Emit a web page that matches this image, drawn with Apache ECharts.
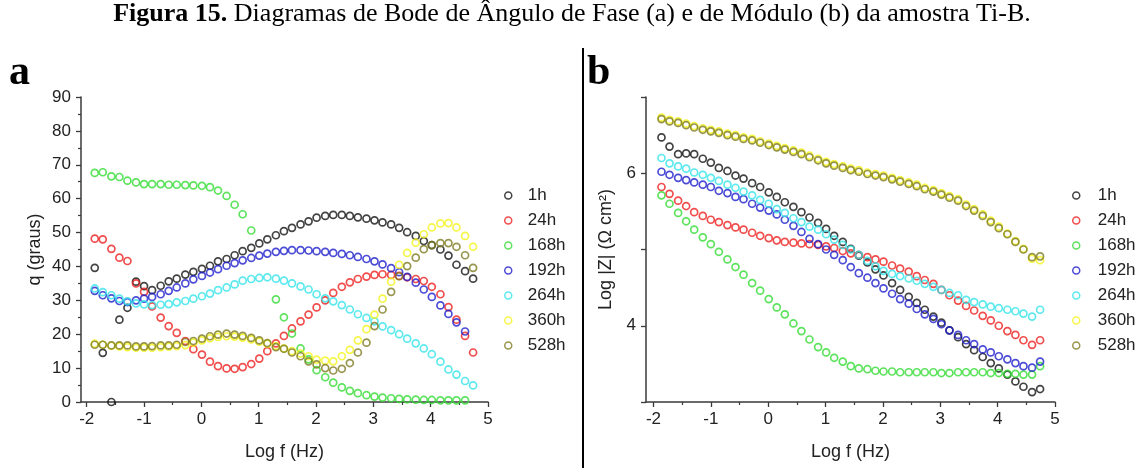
<!DOCTYPE html>
<html>
<head>
<meta charset="utf-8">
<script src="https://cdn.jsdelivr.net/npm/echarts@6/dist/echarts.min.js"></script>
<style>
html,body{margin:0;padding:0;background:#fff;}
#chart{width:1144px;height:468px;}
</style>
</head>
<body>
<div id="chart"></div>
<script>
// log frequency grid (Log f / Hz)
const logF = [-1.86,-1.72,-1.57,-1.43,-1.29,-1.14,-1.00,-0.86,-0.71,-0.57,-0.43,-0.28,-0.14,0.01,0.15,0.29,0.44,0.58,0.72,0.87,1.01,1.15,1.30,1.44,1.58,1.73,1.87,2.01,2.16,2.30,2.45,2.59,2.73,2.88,3.02,3.16,3.31,3.45,3.59,3.74,3.88,4.02,4.17,4.31,4.45,4.60,4.74];

const seriesNames = ['1h','24h','168h','192h','264h','360h','528h'];

// Panel (a): phase angle (graus)
const phase1h   = [39.6,14.5,0.0,24.3,27.8,35.5,34.2,33.0,34.3,35.6,36.4,37.6,38.4,39.3,40.2,41.5,42.2,43.3,44.5,45.5,46.8,48.0,49.2,50.4,51.4,52.4,53.3,54.4,54.9,55.2,55.2,54.9,54.5,54.1,53.6,53.0,52.4,51.4,50.1,49.0,47.5,46.3,45.0,43.2,40.5,38.6,36.4];
const phase24h  = [48.2,48.0,45.2,42.6,41.6,35.0,32.5,28.2,24.9,22.4,20.4,18.0,15.6,14.0,11.9,10.6,9.9,9.8,10.3,11.2,12.8,15.0,17.3,19.5,21.7,23.8,25.8,27.9,30.0,32.2,34.0,35.3,36.3,37.0,37.5,37.7,37.5,37.2,36.8,36.3,35.7,34.0,31.8,28.0,24.3,19.5,14.6];
const phase168h = [67.6,67.8,66.6,66.4,65.3,64.8,64.3,64.3,64.3,64.1,64.1,64.0,63.9,63.8,63.4,62.4,60.8,58.2,55.4,50.6,null,null,30.3,25.0,20.2,15.8,12.6,9.4,7.3,5.7,4.3,3.3,2.6,2.0,1.6,1.3,1.1,0.9,0.8,0.7,0.6,0.6,0.5,0.5,0.5,0.5,null];
const phase192h = [32.8,31.5,30.6,29.8,29.5,30.0,30.5,31.0,31.8,32.8,33.8,35.0,36.2,37.2,38.2,39.2,40.2,41.0,41.8,42.5,43.2,43.8,44.3,44.6,44.8,44.8,44.7,44.5,44.3,44.0,43.7,43.3,42.8,42.2,41.5,40.6,39.5,38.3,36.9,35.2,33.2,31.0,28.5,26.0,23.5,20.8,null];
const phase264h = [33.5,32.4,31.5,30.5,29.7,29.1,28.8,28.6,28.7,28.9,29.4,29.8,30.5,31.2,32.0,33.0,33.8,34.7,35.8,36.3,36.6,36.8,36.4,35.8,35.0,34.1,33.2,31.8,30.6,29.7,28.6,27.3,25.9,24.8,23.8,22.3,21.2,20.0,18.7,17.3,15.8,14.1,11.9,9.6,8.1,6.2,4.9];
const phase360h = [17.2,16.9,16.6,16.4,16.2,16.0,16.0,16.0,16.2,16.3,16.5,16.8,17.5,18.2,18.8,19.2,19.4,19.3,19.0,18.5,17.8,17.2,16.5,15.8,15.0,14.3,13.5,12.5,12.2,12.0,13.5,15.4,18.2,21.5,25.8,30.5,35.5,40.5,44.0,47.0,49.5,51.5,52.7,52.8,51.5,49.0,45.8];
const phase528h = [16.9,16.9,16.7,16.7,16.7,16.4,16.4,16.5,16.7,16.7,16.9,17.7,18.0,18.7,19.4,19.9,20.2,19.9,19.5,18.9,18.2,17.4,16.2,15.7,14.6,13.5,12.0,11.1,10.0,9.3,9.8,11.5,14.6,17.5,22.4,27.3,32.5,37.1,40.1,42.6,45.1,46.3,46.9,46.9,45.8,43.3,39.6];

// Panel (b): Log |Z| (ohm cm2)
const logZ1h   = [6.47,6.35,6.25,6.26,6.25,6.19,6.14,6.07,6.03,5.97,5.93,5.87,5.82,5.75,5.69,5.62,5.56,5.49,5.42,5.35,5.27,5.18,5.10,5.01,4.92,4.83,4.74,4.66,4.56,4.47,4.38,4.30,4.21,4.12,4.04,3.94,3.85,3.76,3.68,3.59,3.51,3.44,3.36,3.27,3.20,3.13,3.17];
const logZ24h  = [5.82,5.73,5.64,5.57,5.49,5.44,5.39,5.36,5.32,5.29,5.26,5.22,5.18,5.15,5.12,5.10,5.09,5.08,5.07,5.06,5.04,5.02,4.98,4.95,4.93,4.90,4.87,4.84,4.79,4.75,4.71,4.65,4.60,4.55,4.47,4.40,4.33,4.26,4.20,4.13,4.07,4.00,3.93,3.88,3.81,3.75,3.81];
const logZ168h = [5.71,5.60,5.48,5.37,5.26,5.16,5.07,4.97,4.87,4.77,4.67,4.56,4.46,4.35,4.24,4.15,4.03,3.93,3.82,3.72,3.65,3.58,3.53,3.47,3.44,3.43,3.41,3.40,3.40,3.39,3.39,3.39,3.39,3.39,3.38,3.38,3.39,3.39,3.39,3.39,3.38,3.38,3.37,3.37,3.36,3.36,3.47];
const logZ192h = [6.02,5.98,5.94,5.91,5.88,5.85,5.82,5.77,5.74,5.69,5.66,5.60,5.55,5.51,5.46,5.39,5.31,5.23,5.14,5.07,5.00,4.93,4.86,4.77,4.69,4.63,4.56,4.49,4.42,4.35,4.29,4.22,4.15,4.09,4.02,3.94,3.88,3.81,3.76,3.69,3.65,3.60,3.56,3.51,3.47,3.45,3.53];
const logZ264h = [6.20,6.13,6.09,6.06,6.01,5.98,5.94,5.90,5.85,5.81,5.76,5.71,5.65,5.60,5.53,5.48,5.41,5.36,5.30,5.26,5.20,5.13,5.06,5.00,4.93,4.85,4.78,4.72,4.68,4.65,4.62,4.59,4.55,4.51,4.47,4.43,4.40,4.34,4.31,4.28,4.25,4.23,4.21,4.19,4.16,4.12,4.21];
const logZ360h = [6.73,6.70,6.68,6.65,6.62,6.59,6.57,6.55,6.52,6.50,6.47,6.45,6.42,6.39,6.36,6.33,6.30,6.27,6.23,6.19,6.15,6.12,6.09,6.06,6.04,6.01,5.99,5.97,5.94,5.91,5.88,5.85,5.81,5.78,5.74,5.70,5.66,5.59,5.53,5.46,5.38,5.30,5.21,5.11,5.01,4.88,4.86];
const logZ528h = [6.71,6.68,6.66,6.63,6.60,6.57,6.55,6.53,6.50,6.48,6.45,6.43,6.40,6.37,6.34,6.31,6.28,6.25,6.21,6.17,6.13,6.10,6.07,6.04,6.02,5.99,5.97,5.95,5.92,5.89,5.86,5.83,5.79,5.76,5.72,5.68,5.64,5.57,5.51,5.44,5.36,5.28,5.20,5.10,5.00,4.90,4.91];

// tick labels
const xMajorTicks = [-2,-1,0,1,2,3,4,5];
const xMinorTicks = [-1.5,-0.5,0.5,1.5,2.5,3.5,4.5];
const zLabels = [4,6];

const phaseSets = [phase1h,phase24h,phase168h,phase192h,phase264h,phase360h,phase528h];
const zSets = [logZ1h,logZ24h,logZ168h,logZ192h,logZ264h,logZ360h,logZ528h];
const colors = ['#141414','#ee2020','#36dc36','#1f1fcc','#34e4ea','#f4f41c','#7e7c22'];

const FONT = 'Liberation Sans, Arial, sans-serif';
const axisCol = '#3a3a3a';

function mkSeries(sets, panel) {
  return sets.map((arr, i) => ({
    type: 'scatter',
    name: seriesNames[i],
    xAxisIndex: panel * 2,
    yAxisIndex: panel,
    data: logF.map((x, k) => [x, arr[k]]).filter(d => d[1] !== null),
    symbol: 'circle',
    symbolSize: 7,
    itemStyle: { color: 'rgba(255,255,255,0)', borderColor: colors[i], borderWidth: 1.7 },
    emphasis: { disabled: true },
    z: 2 + i
  }));
}

function xAxes(grid, min) {
  return [
    {
      gridIndex: grid, type: 'value', min: min, max: 5, position: 'bottom',
      axisLine: { show: true, onZero: false, lineStyle: { color: axisCol, width: 1.5 } },
      axisTick: { show: true, customValues: xMajorTicks, length: 5, lineStyle: { color: axisCol, width: 1.3 } },
      axisLabel: { show: true, customValues: xMajorTicks, margin: 9, fontSize: 17, color: '#222', fontFamily: FONT },
      splitLine: { show: false },
      name: 'Log f (Hz)', nameLocation: 'middle', nameGap: 41,
      nameTextStyle: { fontSize: 18, color: '#222', fontFamily: FONT }
    },
    {
      gridIndex: grid, type: 'value', min: min, max: 5, position: 'bottom',
      axisLine: { show: false, onZero: false },
      axisTick: { show: true, customValues: xMinorTicks, length: 3, lineStyle: { color: axisCol, width: 1.2 } },
      axisLabel: { show: false },
      splitLine: { show: false }
    }
  ];
}

const chart = echarts.init(document.getElementById('chart'), null, { renderer: 'canvas' });

const legendData = seriesNames.map((n, i) => ({
  name: n, icon: 'circle',
  itemStyle: { color: 'rgba(255,255,255,0)', borderColor: colors[i], borderWidth: 1.5 }
}));

chart.setOption({
  animation: false,
  backgroundColor: '#fff',
  grid: [
    { left: 81, top: 97, width: 407, height: 305 },
    { left: 646, top: 97, width: 409, height: 305 }
  ],
  xAxis: [].concat(xAxes(0, -2.1), xAxes(1, -2.13)),
  yAxis: [
    {
      gridIndex: 0, type: 'value', min: 0, max: 90, interval: 10, position: 'left',
      axisLine: { show: true, onZero: false, lineStyle: { color: axisCol, width: 1.5 } },
      axisTick: { show: true, length: 5, lineStyle: { color: axisCol, width: 1.3 } },
      minorTick: { show: true, splitNumber: 2, length: 3, lineStyle: { color: axisCol, width: 1.2 } },
      axisLabel: { margin: 10, fontSize: 17, color: '#222', fontFamily: FONT },
      splitLine: { show: false },
      name: 'q (graus)', nameLocation: 'middle', nameGap: 37,
      nameTextStyle: { fontSize: 18, color: '#222', fontFamily: FONT }
    },
    {
      gridIndex: 1, type: 'value', min: 3, max: 7, interval: 1, position: 'left',
      axisLine: { show: true, onZero: false, lineStyle: { color: axisCol, width: 1.5 } },
      axisTick: { show: true, length: 5, lineStyle: { color: axisCol, width: 1.3 } },
      axisLabel: {
        margin: 10, fontSize: 17, color: '#222', fontFamily: FONT,
        formatter: v => (zLabels.indexOf(v) >= 0 ? String(v) : '')
      },
      splitLine: { show: false },
      name: 'Log |Z| (\u03A9 cm\u00B2)', nameLocation: 'middle', nameGap: 31,
      nameTextStyle: { fontSize: 18, color: '#222', fontFamily: FONT }
    }
  ],
  legend: [
    {
      orient: 'vertical', left: 499, top: 182, itemWidth: 7, itemHeight: 7, itemGap: 8,
      data: legendData, selectedMode: false,
      textStyle: { fontSize: 17, lineHeight: 16, color: '#222', fontFamily: FONT, padding: [0, 0, 0, 11] }
    },
    {
      orient: 'vertical', left: 1067, top: 182, itemWidth: 7, itemHeight: 7, itemGap: 8,
      data: legendData, selectedMode: false,
      textStyle: { fontSize: 17, lineHeight: 16, color: '#222', fontFamily: FONT, padding: [0, 0, 0, 13] }
    }
  ],
  graphic: [
    {
      type: 'text', left: 'center', top: 1,
      style: {
        text: '{b|Figura 15.} Diagramas de Bode de \u00C2ngulo de Fase (a) e de M\u00F3dulo (b) da amostra Ti-B.',
        fill: '#000',
        font: '26px "Liberation Serif", "Times New Roman", serif',
        rich: { b: { fontWeight: 'bold', fontSize: 26, fontFamily: 'Liberation Serif' } }
      }
    },
    {
      type: 'text', x: 9, y: 52,
      style: { text: 'a', fill: '#000', font: 'bold 42px "Liberation Serif", serif', textVerticalAlign: 'top' }
    },
    {
      type: 'text', x: 587, y: 52,
      style: { text: 'b', fill: '#000', font: 'bold 42px "Liberation Serif", serif', textVerticalAlign: 'top' }
    },
    {
      type: 'line', shape: { x1: 583, y1: 48, x2: 583, y2: 468 },
      style: { stroke: '#000', lineWidth: 2 }
    }
  ],
  series: [].concat(mkSeries(phaseSets, 0), mkSeries(zSets, 1))
});
</script>
</body>
</html>
